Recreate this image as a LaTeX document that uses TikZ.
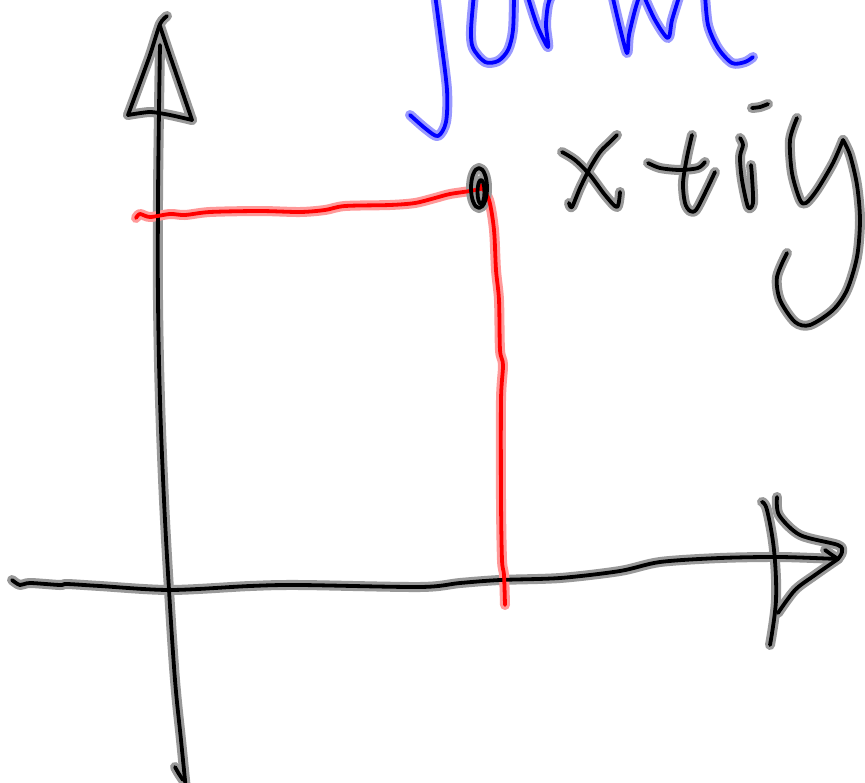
\documentclass[tikz,border=0pt]{standalone}
\pgfdeclarelayer{halolayer}
\pgfdeclarelayer{paper}
\pgfsetlayers{paper,halolayer,main}
\tikzset{
  halo/.style={draw=#1!40, line width=10pt, line cap=round, line join=round},
  core/.style={draw=#1, line width=3.8pt, line cap=round, line join=round}
}
\newcommand\ink[2]{%
  \begin{pgfonlayer}{halolayer}\draw[halo=#1] #2;\end{pgfonlayer}%
  \draw[core=#1] #2;}
\begin{document}
\begin{tikzpicture}[x=1pt,y=-1pt]
\useasboundingbox (0,0) rectangle (865,782);
\begin{pgfonlayer}{paper}\fill[white] (0,0) rectangle (865,782);\end{pgfonlayer}
% vertical axis
\ink{black}{plot[smooth,tension=0.6] coordinates {(160,45) (159,110) (158,200) (158,300) (160,400) (164,500) (169,590) (175,680) (181,740) (186,790)}}
\ink{black}{plot[smooth,tension=0.5] coordinates {(175,767) (179,774) (183,780)}}
% top arrow head
\ink{black}{plot[smooth,tension=0.4] coordinates {(167,16) (160,24) (150,55) (138,88) (128,115)}}
\ink{black}{plot[smooth,tension=0.4] coordinates {(128,115) (150,112) (170,115) (192,120)}}
\ink{black}{plot[smooth,tension=0.4] coordinates {(192,120) (180,85) (168,50) (160,26)}}
% horizontal axis
\ink{black}{plot[smooth,tension=0.5] coordinates {(12,580) (20,585) (30,583) (60,585) (67,584) (100,586) (170,590) (250,586) (300,585) (420,587) (460,583) (500,580) (560,578) (620,571) (660,562) (720,558) (780,557) (838,559)}}
% right arrow head
\ink{black}{plot[smooth,tension=0.6] coordinates {(762,502) (767,510) (774,550) (776,600) (770,645)}}
\ink{black}{plot[smooth,tension=0.5] coordinates {(778,613) (795,590) (815,575) (838,559)}}
\ink{black}{plot[smooth,tension=0.5] coordinates {(777,497) (779,515) (800,535) (838,545) (842,552) (838,559)}}
\ink{black}{plot[smooth,tension=0.5] coordinates {(825,550) (832,555) (838,559)}}
% red guide lines
\ink{red}{plot[smooth,tension=0.5] coordinates {(136,218) (140,214) (150,217) (170,214) (185,215) (210,212) (260,211) (300,212) (325,210) (345,206) (390,205) (415,203) (435,198) (450,194) (470,191) (485,188)}}
\ink{red}{plot[smooth,tension=0.5] coordinates {(480,185) (489,200) (494,230) (496,270) (499,300) (500,350) (503,365) (501,400) (501,500) (502,560) (504,575) (505,605)}}
% point
\ink{black}{(479,188) ellipse [x radius=8, y radius=20]}
\ink{black}{(481,192) ellipse [x radius=3.5, y radius=12]}
% blue "form"
\ink{blue}{plot[smooth,tension=0.5] coordinates {(435,-6) (441,40) (447,90) (446,122) (438,136) (426,129) (410,115)}}
\ink{blue}{plot[smooth,tension=0.5] coordinates {(474,-6) (471,30) (473,48) (485,62) (498,61) (508,50) (513,30) (514,-6)}}
\ink{blue}{plot[smooth,tension=0.5] coordinates {(527,-6) (537,25) (548,47) (546,25) (548,5) (552,-6)}}
\ink{blue}{plot[smooth,tension=0.5] coordinates {(612,-6) (620,28) (627,53) (629,35) (635,10) (640,-6)}}
\ink{blue}{plot[smooth,tension=0.5] coordinates {(643,-6) (655,20) (668,38) (672,20) (680,-6)}}
\ink{blue}{plot[smooth,tension=0.5] coordinates {(705,-6) (708,25) (718,48) (732,63) (745,62) (753,57)}}
% black "x+iy"
\ink{black}{plot[smooth,tension=0.5] coordinates {(562,152) (575,160) (590,175) (605,195) (617,207) (620,192)}}
\ink{black}{plot[smooth,tension=0.5] coordinates {(617,135) (610,142) (600,152) (590,168) (580,188) (572,207) (569,203)}}
\ink{black}{plot[smooth,tension=0.5] coordinates {(648,163) (660,168) (680,170) (698,168) (705,162)}}
\ink{black}{plot[smooth,tension=0.5] coordinates {(692,135) (687,157) (683,183) (685,203) (690,211) (696,210) (705,193) (715,172)}}
\ink{black}{plot[smooth,tension=0.5] coordinates {(752,108) (760,107) (768,104)}}
\ink{black}{plot[smooth,tension=0.5] coordinates {(740,138) (743,145) (740,157) (742,180) (748,207) (753,203) (752,177) (751,165)}}
\ink{black}{plot[smooth,tension=0.5] coordinates {(797,118) (790,140) (792,173) (800,200) (806,203) (817,190) (833,163) (843,140)}}
\ink{black}{plot[smooth,tension=0.5] coordinates {(843,140) (850,155) (857,185) (860,220) (857,257) (847,290) (833,310) (810,325) (795,322) (780,300) (777,277) (787,253)}}
\end{tikzpicture}
\end{document}
